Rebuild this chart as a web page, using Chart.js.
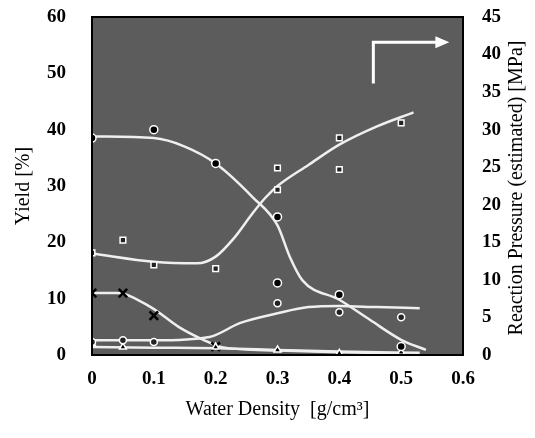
<!DOCTYPE html>
<html>
<head>
<meta charset="utf-8">
<script src="https://cdn.jsdelivr.net/npm/chart.js@4.4.1/dist/chart.umd.min.js"></script>
<style>
  html, body { margin: 0; padding: 0; background: #fff; }
  #wrap { width: 535px; height: 438px; }
</style>
</head>
<body>
<div id="wrap"><canvas id="chart" width="535" height="438"></canvas></div>
<script>
// 測定点 (x: water density g/cm3, y: yield %)
const filledCircle = [[0, 38.5], [0.1, 40], [0.2, 34], [0.3, 24.5], [0.3, 12.8], [0.4, 10.7], [0.5, 1.5]];
const openCircle = [[0, 2.3], [0.05, 2.6], [0.1, 2.3], [0.3, 9.2], [0.4, 7.6], [0.5, 6.7]];
const triangle = [[0, 2.0], [0.05, 1.4], [0.2, 1.4], [0.3, 0.9], [0.4, 0.3], [0.5, 0.5]];
const cross = [[0, 11], [0.05, 11], [0.1, 7], [0.2, 1.5]];
// pressure points, MPa (right axis)
const squarePress = [[0, 13.6], [0.05, 15.3], [0.1, 12], [0.2, 11.5], [0.3, 24.9], [0.3, 22], [0.4, 28.9], [0.4, 24.7], [0.5, 30.9]];

// 近似曲線
const curveFilled = [[0, 38.8], [0.1, 38.5], [0.15, 37], [0.2, 34], [0.26, 28], [0.3, 23], [0.32, 17.4], [0.34, 13.3], [0.4, 9.8], [0.45, 6.2], [0.5, 2.7], [0.54, 0.9]];
const curveOpen = [[0, 2.6], [0.1, 2.6], [0.19, 3.2], [0.24, 5.7], [0.3, 7.4], [0.35, 8.5], [0.4, 8.7], [0.46, 8.5], [0.53, 8.3]];
const curveCross = [[0, 11], [0.04, 11], [0.095, 8.5], [0.14, 5], [0.18, 2.7], [0.21, 1.4], [0.3, 0.8], [0.4, 0.5], [0.5, 0.3]];
const curveTri = [[0, 1.4], [0.1, 1.3], [0.2, 1.2], [0.3, 0.9], [0.4, 0.6], [0.53, 0.4]];
const curvePress = [[0, 13.5], [0.1, 12.4], [0.17, 12.2], [0.2, 13.1], [0.23, 15.6], [0.26, 18.9], [0.28, 20.9], [0.3, 22.5], [0.35, 25.3], [0.4, 28], [0.46, 30.4], [0.52, 32.3]];

const xTicks = [0, 0.1, 0.2, 0.3, 0.4, 0.5, 0.6];
const yieldTicks = [0, 10, 20, 30, 40, 50, 60];
const pressTicks = [0, 5, 10, 15, 20, 25, 30, 35, 40, 45];

// arrow pointing to the right axis (x, yield units)
const arrowPath = [[0.455, 48.2], [0.455, 55.5], [0.565, 55.5]];

const serif = "'Liberation Serif', 'Times New Roman', serif";

function pts(a) { return a.map(p => ({ x: p[0], y: p[1] })); }

function curve(data, axis) {
  return {
    data: pts(data), yAxisID: axis || 'y', showLine: true,
    borderColor: '#efefef', borderWidth: 2.5, pointRadius: 0,
    cubicInterpolationMode: 'monotone', order: 2
  };
}
function marks(data, style, fill, axis, r) {
  return {
    data: pts(data), yAxisID: axis || 'y', showLine: false,
    pointStyle: style, pointRadius: r || 4, pointBackgroundColor: fill,
    pointBorderColor: style === 'crossRot' ? '#000' : '#fff',
    pointBorderWidth: style === 'crossRot' ? 2.5 : 1.5, order: 1
  };
}

const areaPlugin = {
  id: 'area',
  beforeDraw(chart) {
    const a = chart.chartArea, ctx = chart.ctx;
    ctx.save();
    ctx.fillStyle = '#5c5c5c';
    ctx.fillRect(a.left, a.top, a.right - a.left, a.bottom - a.top);
    ctx.restore();
  },
  afterDraw(chart) {
    const a = chart.chartArea, ctx = chart.ctx;
    const xs = chart.scales.x, ys = chart.scales.y;
    ctx.save();
    ctx.strokeStyle = '#000';
    ctx.lineWidth = 2;
    ctx.strokeRect(a.left, a.top, a.right - a.left, a.bottom - a.top);

    // arrow
    ctx.strokeStyle = '#fff';
    ctx.lineWidth = 3;
    ctx.beginPath();
    arrowPath.forEach((p, i) => {
      const px = xs.getPixelForValue(p[0]), py = ys.getPixelForValue(p[1]);
      if (i === 0) ctx.moveTo(px, py); else ctx.lineTo(px, py);
    });
    ctx.stroke();
    const end = arrowPath[arrowPath.length - 1];
    const ex = xs.getPixelForValue(end[0]), ey = ys.getPixelForValue(end[1]);
    ctx.fillStyle = '#fff';
    ctx.beginPath();
    ctx.moveTo(ex + 8, ey);
    ctx.lineTo(ex - 6, ey - 6);
    ctx.lineTo(ex - 6, ey + 6);
    ctx.closePath();
    ctx.fill();

    // right title, reads bottom to top
    ctx.fillStyle = '#000';
    ctx.font = '20px ' + serif;
    ctx.textAlign = 'center';
    ctx.textBaseline = 'middle';
    ctx.translate(517, (a.top + a.bottom) / 2 + 2);
    ctx.rotate(-Math.PI / 2);
    ctx.fillText('Reaction Pressure (estimated) [MPa]', 0, 0);
    ctx.restore();
  }
};

new Chart(document.getElementById('chart'), {
  type: 'scatter',
  data: {
    datasets: [
      curve(curveFilled), curve(curveOpen), curve(curveCross), curve(curveTri),
      curve(curvePress, 'y2'),
      marks(filledCircle, 'circle', '#000'),
      marks(openCircle, 'circle', '#222', 'y', 3.5),
      marks(triangle, 'triangle', '#000'),
      marks(cross, 'crossRot', '#000', 'y', 6),
      marks(squarePress, 'rect', '#222', 'y2', 4)
    ]
  },
  options: {
    responsive: false,
    animation: false,
    layout: { padding: { top: 17, left: 0, right: 0, bottom: 0 } },
    plugins: { legend: { display: false }, tooltip: { enabled: false } },
    scales: {
      x: {
        type: 'linear', min: 0, max: 0.6,
        afterFit: s => { s.height = 83; s.paddingLeft = 0; s.paddingRight = 0; },
        afterBuildTicks: s => { s.ticks = xTicks.map(v => ({ value: v })); },
        grid: { display: false, drawTicks: false },
        border: { display: false },
        ticks: {
          color: '#000', padding: 13,
          font: { family: serif, size: 19, weight: 'bold' },
          callback: v => v === 0 ? '0' : v.toFixed(1)
        },
        title: {
          display: true, text: 'Water Density  [g/cm³]', color: '#000',
          font: { family: serif, size: 20 }, padding: { top: 0, bottom: 16 }
        }
      },
      y: {
        position: 'left', min: 0, max: 60,
        afterFit: s => { s.width = 92; s.paddingTop = 0; s.paddingBottom = 0; },
        afterBuildTicks: s => { s.ticks = yieldTicks.map(v => ({ value: v })); },
        grid: { display: false, drawTicks: false },
        border: { display: false },
        ticks: { color: '#000', padding: 26, font: { family: serif, size: 19, weight: 'bold' } },
        title: {
          display: true, text: 'Yield [%]', color: '#000',
          font: { family: serif, size: 20 }, padding: { top: 12, bottom: 0 }
        }
      },
      y2: {
        position: 'right', min: 0, max: 45,
        afterFit: s => { s.width = 72; s.paddingTop = 0; s.paddingBottom = 0; },
        afterBuildTicks: s => { s.ticks = pressTicks.map(v => ({ value: v })); },
        grid: { display: false, drawTicks: false },
        border: { display: false },
        ticks: { color: '#000', padding: 19, font: { family: serif, size: 19, weight: 'bold' } }
      }
    }
  },
  plugins: [areaPlugin]
});
</script>
</body>
</html>
